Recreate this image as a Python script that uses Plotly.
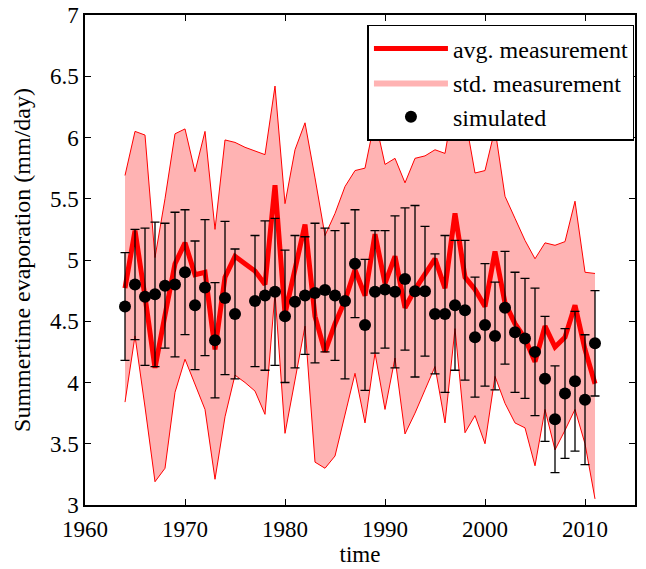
import numpy as np
import plotly.graph_objects as go

years = list(range(1964, 2012))

avg_meas = [4.77, 5.24, 4.70, 4.12, 4.55, 4.97, 5.14, 4.88, 4.90, 4.27,
            4.86, 5.03, 4.97, 4.91, 4.80, 5.61, 4.56, 4.92, 5.29, 4.54,
            4.25, 4.48, 4.67, 4.92, 4.71, 5.21, 4.81, 5.03, 4.61, 4.76,
            4.88, 5.01, 4.77, 5.38, 4.86, 4.76, 4.62, 5.07, 4.65, 4.48,
            4.36, 4.17, 4.46, 4.29, 4.37, 4.63, 4.27, 3.99]

std_upper = [5.69, 6.05, 6.02, 5.02, 5.50, 6.03, 6.07, 5.72, 6.05, 5.25,
             5.98, 5.96, 5.92, 5.89, 5.86, 6.42, 5.46, 5.90, 6.12, 5.67,
             5.20, 5.38, 5.60, 5.73, 5.75, 6.15, 5.78, 5.83, 5.63, 5.83,
             5.85, 5.90, 5.87, 6.34, 6.17, 5.71, 5.73, 6.07, 5.52, 5.34,
             5.16, 5.01, 5.14, 5.12, 5.15, 5.48, 4.90, 4.89]

std_lower = [3.84, 4.38, 3.80, 3.19, 3.30, 3.92, 4.19, 3.99, 3.78, 3.21,
             3.72, 4.06, 4.00, 3.93, 3.74, 4.73, 3.585, 4.02, 4.46, 3.35,
             3.30, 3.40, 3.73, 4.075, 3.67, 4.24, 3.78, 4.20, 3.58, 3.75,
             3.94, 4.13, 3.67, 4.44, 3.59, 3.73, 3.50, 4.05, 3.83, 3.67,
             3.63, 3.32, 3.78, 3.45, 3.61, 3.78, 3.50, 3.05]

simulated = [4.62, 4.80, 4.70, 4.72, 4.79, 4.80, 4.90, 4.63, 4.775, 4.345,
             4.69, 4.56, None, 4.665, 4.71, 4.74, 4.54, 4.66, 4.71, 4.73,
             4.755, 4.71, 4.665, 4.97, 4.47, 4.74, 4.76, 4.74, 4.845, 4.745,
             4.745, 4.56, 4.56, 4.63, 4.59, 4.37, 4.47, 4.38, 4.61, 4.41,
             4.36, 4.25, 4.03, 3.70, 3.91, 4.01, 3.86, 4.32]

sim_err = [0.44, 0.45, 0.56, 0.59, 0.51, 0.59, 0.51, 0.525, 0.555, 0.47,
           0.625, 0.53, None, 0.535, 0.61, 0.60, 0.54, 0.54, 0.48, 0.57,
           0.505, 0.53, 0.635, 0.44, 0.535, 0.50, 0.48, 0.62, 0.58, 0.70,
           0.53, 0.49, 0.64, 0.53, 0.57, 0.49, 0.50, 0.44, 0.46, 0.49,
           0.49, 0.52, 0.51, 0.435, 0.53, 0.57, 0.53, 0.43]

x_ticks = [1960, 1970, 1980, 1990, 2000, 2010]

FONT = "Times New Roman, Liberation Serif, DejaVu Serif, serif"
RED = "#ff0000"
PINK = "#ffb3b3"

fig = go.Figure()

# std band fill
fig.add_trace(go.Scatter(x=years, y=std_lower, mode="lines",
                         line=dict(width=0, color=PINK), showlegend=False,
                         hoverinfo="skip"))
fig.add_trace(go.Scatter(x=years, y=std_upper, mode="lines", fill="tonexty",
                         fillcolor=PINK, line=dict(width=0, color=PINK),
                         name="std. measurement", legendrank=2))
# band edges
fig.add_trace(go.Scatter(x=years, y=std_upper, mode="lines",
                         line=dict(width=1, color=RED), showlegend=False))
fig.add_trace(go.Scatter(x=years, y=std_lower, mode="lines",
                         line=dict(width=1, color=RED), showlegend=False))
# avg line
fig.add_trace(go.Scatter(x=years, y=avg_meas, mode="lines",
                         line=dict(width=5, color=RED),
                         name="avg. measurement", legendrank=1))
# simulated
fig.add_trace(go.Scatter(x=years, y=simulated, mode="markers",
                         marker=dict(size=12, color="black"),
                         error_y=dict(type="data", array=sim_err, visible=True,
                                      color="black", thickness=1.3, width=4.5),
                         name="simulated", legendrank=3))

axis_common = dict(showline=True, linecolor="black", linewidth=1.5,
                   mirror="ticks", ticks="inside", ticklen=6, tickwidth=1,
                   tickcolor="black", showgrid=False, zeroline=False,
                   tickfont=dict(family=FONT, size=23, color="black"))

fig.update_xaxes(range=[1960, 2015], tickvals=x_ticks, ticklabelstandoff=3,
                 title=dict(text="time", font=dict(family=FONT, size=23, color="black"),
                            standoff=3),
                 **axis_common)
fig.update_yaxes(range=[3, 7], dtick=0.5,
                 title=dict(text="Summertime evaporation (mm/day)",
                            font=dict(family=FONT, size=24, color="black"),
                            standoff=13),
                 **axis_common)

fig.update_layout(
    width=646, height=569,
    margin=dict(l=85, r=11, t=15, b=64, autoexpand=False),
    paper_bgcolor="white", plot_bgcolor="white",
    font=dict(family=FONT, size=23, color="black"),
    showlegend=True,
    legend=dict(x=0.999, xanchor="right", y=0.98, yanchor="top",
                bgcolor="white", bordercolor="black", borderwidth=1.5,
                itemwidth=74, tracegroupgap=0,
                font=dict(family=FONT, size=24, color="black"),
                traceorder="normal"),
)

fig.write_html("out.html")
